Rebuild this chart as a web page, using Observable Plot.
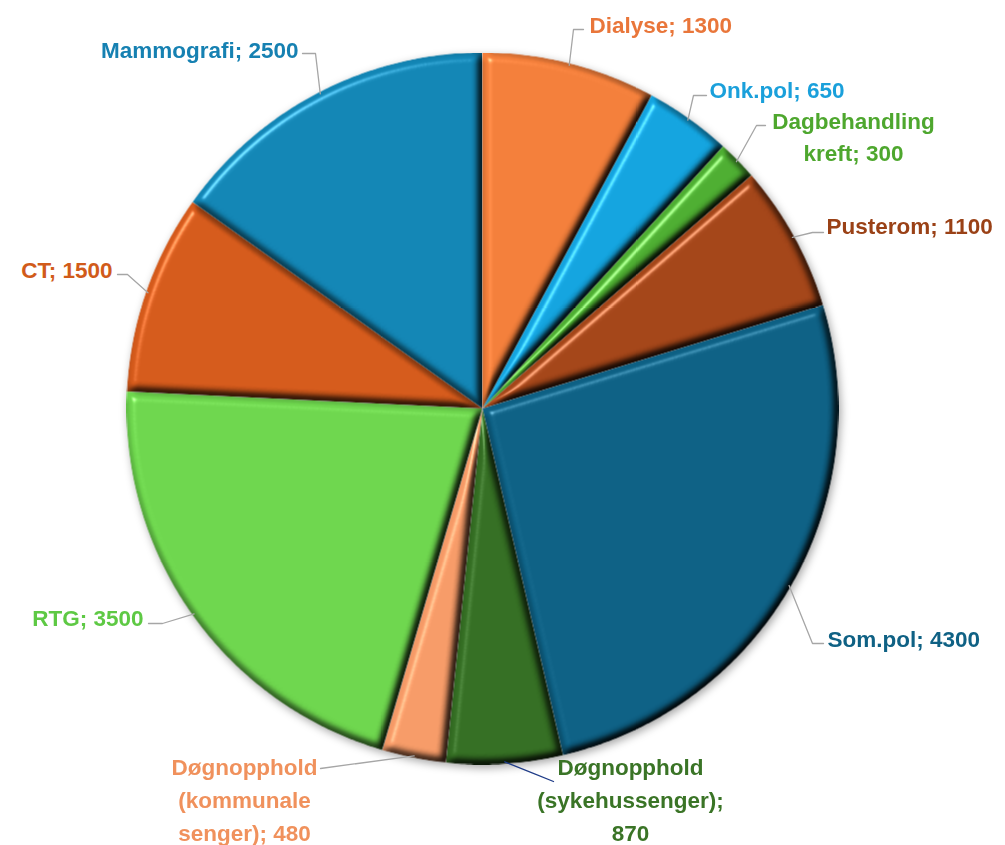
<!DOCTYPE html>
<html><head><meta charset="utf-8">
<script src="https://cdn.jsdelivr.net/npm/d3@7"></script>
<script src="https://cdn.jsdelivr.net/npm/@observablehq/plot@0.6"></script>
<style>body{margin:0;background:#fff} #chart{width:1005px;height:845px}</style>
</head><body><div id="chart"></div>
<script>
// ---- data ----
const categories = ["Dialyse","Onk.pol","Dagbehandling kreft","Pusterom","Som.pol","Døgnopphold (sykehussenger)","Døgnopphold (kommunale senger)","RTG","CT","Mammografi"];
const values = [1300, 650, 300, 1100, 4300, 870, 480, 3500, 1500, 2500];
const labelTexts = ["Dialyse; 1300","Onk.pol; 650","Dagbehandling\nkreft; 300","Pusterom; 1100","Som.pol; 4300","Døgnopphold\n(sykehussenger);\n870","Døgnopphold\n(kommunale\nsenger); 480","RTG; 3500","CT; 1500","Mammografi; 2500"];

// ---- styles ----
const sliceColors = ["#F27E3A","#13A3DE","#4DAD31","#A34518","#0D6084","#346E23","#F59A67","#6DD54D","#D45A1B","#1285B4"];
const textColors  = ["#E9763A","#1AA0DB","#4EA72E","#9A4116","#0F6184","#3A7426","#F0915C","#5EC944","#D15B1A","#1681B2"];
const leaderColors = ["#A6A6A6","#A6A6A6","#A6A6A6","#A6A6A6","#A6A6A6","#1F3C88","#A6A6A6","#A6A6A6","#A6A6A6","#A6A6A6"];
// label layout (pixels): text position, anchor, leader start/bend
const labelLayout = [
  {tx: 589, ty: 22, anchor: "start", leader: [[583,29],[573,29]]},
  {tx: 709, ty: 87, anchor: "start", leader: [[706,95],[693,95]]},
  {tx: 853, ty: 134, anchor: "middle", leader: [[765,125],[756,125]]},
  {tx: 826, ty: 223, anchor: "start", leader: [[823,232],[812,232]]},
  {tx: 827, ty: 636, anchor: "start", leader: [[823,643],[812,643]]},
  {tx: 630, ty: 797, anchor: "middle", leader: [[553,781]]},
  {tx: 244, ty: 797, anchor: "middle", leader: [[320,768]]},
  {tx: 143, ty: 615, anchor: "end", leader: [[148,623],[162,623]]},
  {tx: 112, ty: 267, anchor: "end", leader: [[117,274],[127,274]]},
  {tx: 298, ty: 47, anchor: "end", leader: [[302,53],[315,53]]}
];
const W = 1005, H = 845, cx = 482, cy = 408, R = 356;

// ---- geometry derived from values ----
const arcs = d3.pie().sort(null).value(d => d)(values);
const slicePts = [];
arcs.forEach((a, i) => {
  const name = categories[i];
  slicePts.push({name, i, x: cx, y: cy});
  const n = Math.max(2, Math.ceil((a.endAngle - a.startAngle) / (Math.PI / 360)));
  for (let k = 0; k <= n; k++) {
    const t = a.startAngle + (a.endAngle - a.startAngle) * k / n;
    slicePts.push({name, i, x: cx + R * Math.sin(t), y: cy - R * Math.cos(t)});
  }
});
const leaderPts = [];
arcs.forEach((a, i) => {
  const m = (a.startAngle + a.endAngle) / 2;
  labelLayout[i].leader.forEach(p => leaderPts.push({name: categories[i], i, x: p[0], y: p[1]}));
  leaderPts.push({name: categories[i], i, x: cx + (R - 2) * Math.sin(m), y: cy - (R - 2) * Math.cos(m)});
});
const labelData = categories.map((c, i) => ({name: c, i, text: labelTexts[i], ...labelLayout[i]}));

const textOpts = (anchor) => ({
  filter: d => d.anchor === anchor, x: "tx", y: "ty", text: "text",
  fill: d => textColors[d.i], textAnchor: anchor, fontSize: 22.5, fontWeight: "bold", lineHeight: 1.46
});

const plot = Plot.plot({
  width: W, height: H, margin: 0,
  x: {domain: [0, W], range: [0, W], axis: null},
  y: {domain: [0, H], range: [0, H], axis: null},
  color: {type: "identity"},
  style: {background: "#fff", fontFamily: "'Liberation Sans', Arial, sans-serif", overflow: "visible"},
  marks: [
    Plot.line(slicePts, {x: "x", y: "y", z: "name", fill: d => sliceColors[d.i], stroke: "none", curve: "linear-closed"}),
    Plot.line(leaderPts, {x: "x", y: "y", z: "name", stroke: d => leaderColors[d.i], strokeWidth: 1.3}),
    Plot.text(labelData, textOpts("start")),
    Plot.text(labelData, textOpts("middle")),
    Plot.text(labelData, textOpts("end"))
  ]
});
document.getElementById("chart").appendChild(plot);

// bevel styling
const svg = d3.select(plot);
const defs = svg.insert("defs", ":first-child");
defs.html(`
<filter id="bevel" x="-5%" y="-5%" width="110%" height="110%" color-interpolation-filters="sRGB">
  <feGaussianBlur in="SourceAlpha" stdDeviation="4.5" result="blur"/>
  <feDiffuseLighting in="blur" surfaceScale="8" diffuseConstant="1.155" lighting-color="white" result="diff">
    <feDistantLight azimuth="225" elevation="60"/>
  </feDiffuseLighting>
  <feComposite in="SourceGraphic" in2="diff" operator="arithmetic" k1="1" k2="0" k3="0" k4="0" result="lit"/>
  <feSpecularLighting in="blur" surfaceScale="8" specularConstant="0.8" specularExponent="40" lighting-color="white" result="spec">
    <feDistantLight azimuth="225" elevation="40"/>
  </feSpecularLighting>
  <feComposite in="spec" in2="SourceAlpha" operator="in" result="specIn"/>
  <feComposite in="lit" in2="specIn" operator="arithmetic" k1="0" k2="1" k3="0.5" k4="0" result="out"/>
  <feComposite in="out" in2="SourceAlpha" operator="in"/>
</filter>`);
const pieG = svg.selectAll('g[aria-label="line"]').filter((d, i) => i === 0);
pieG.style("filter", "drop-shadow(2px 3px 4px rgba(0,0,0,0.35))")
  .selectAll("path").attr("filter", "url(#bevel)");
</script></body></html>
